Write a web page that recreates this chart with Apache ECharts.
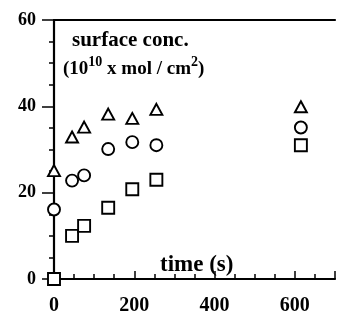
<!DOCTYPE html>
<html><head><meta charset="utf-8">
<script src="https://cdn.jsdelivr.net/npm/echarts@6/dist/echarts.min.js"></script>
<style>html,body{margin:0;padding:0;background:#fff}#c{width:338px;height:316px}</style>
</head><body><div id="c"></div>
<script>
const times = [0, 45, 75, 135, 195, 255, 615];
const triangleVals = [25.1, 32.9, 35.2, 38.2, 37.2, 39.3, 39.9];
const circleVals = [16.1, 22.8, 24.0, 30.1, 31.7, 31.0, 35.1];
const squareVals = [0, 10.0, 12.3, 16.5, 20.8, 23.0, 31.0];
const yTicks = [0, 20, 40, 60];
const xTicks = [0, 200, 400, 600];
const titleLine1 = 'surface conc.';
const xTitle = 'time (s)';

const pair = vals => times.map((t, i) => [t, vals[i]]);
const serif = '"Liberation Serif", "DejaVu Serif", serif';
const mk = (sym, size, vals) => ({
  type: 'scatter', symbol: sym, symbolSize: size, data: pair(vals), clip: false,
  itemStyle: { color: '#fff', borderColor: '#000', borderWidth: 1.9, opacity: 1 },
  emphasis: { disabled: true }, z: 5
});

const chart = echarts.init(document.getElementById('c'), null, { renderer: 'canvas' });
chart.setOption({
  animation: false,
  backgroundColor: '#fff',
  grid: { left: 54, top: 20, width: 287, height: 261 },
  xAxis: [{
    type: 'value', min: 0, max: 700, interval: 200,
    axisLine: { show: true, onZero: false, lineStyle: { color: '#000', width: 2.2 } },
    axisTick: { show: true, inside: true, length: 8, lineStyle: { color: '#000', width: 1.5 } },
    minorTick: { show: true, splitNumber: 4, length: 5, lineStyle: { color: '#000', width: 1.5 } },
    splitLine: { show: false },
    axisLabel: { margin: 17, color: '#000', fontFamily: serif, fontWeight: 'bold', fontSize: 20,
      formatter: v => xTicks.includes(v) ? String(v) : '' }
  }, {
    type: 'value', min: 0, max: 700, position: 'top',
    axisLine: { show: true, onZero: false, lineStyle: { color: '#000', width: 2.2 } },
    axisTick: { show: false }, axisLabel: { show: false }, splitLine: { show: false }
  }],
  yAxis: {
    type: 'value', min: 0, max: 60, interval: 20,
    axisLine: { show: true, onZero: false, lineStyle: { color: '#000', width: 2.2 } },
    axisTick: { show: true, inside: false, length: 12, lineStyle: { color: '#000', width: 1.5 } },
    minorTick: { show: true, splitNumber: 4, length: 5, lineStyle: { color: '#000', width: 1.5 } },
    splitLine: { show: false },
    axisLabel: { margin: 18, color: '#000', fontFamily: serif, fontWeight: 'bold', fontSize: 18,
      formatter: v => yTicks.includes(v) ? String(v) : '' }
  },
  series: [
    mk('triangle', [12, 11], triangleVals),
    mk('circle', 12, circleVals),
    mk('rect', 12, squareVals)
  ],
  graphic: [
    { type: 'text', left: 72, top: 30, z: 10,
      style: { text: titleLine1, font: 'bold 21px ' + serif, fill: '#000' } },
    { type: 'text', left: 63, top: 55, z: 10,
      style: {
        text: '{m|(10}{s|10}{m| x mol / cm}{s|2}{m|)}',
        rich: {
          m: { font: 'bold 19px ' + serif, fill: '#000', verticalAlign: 'bottom', lineHeight: 24 },
          s: { font: 'bold 14px ' + serif, fill: '#000', verticalAlign: 'top', lineHeight: 24 }
        }
      } },
    { type: 'text', left: 160, top: 254, z: 10,
      style: { text: xTitle, font: 'bold 23px ' + serif, fill: '#000' } }
  ]
});
</script></body></html>
